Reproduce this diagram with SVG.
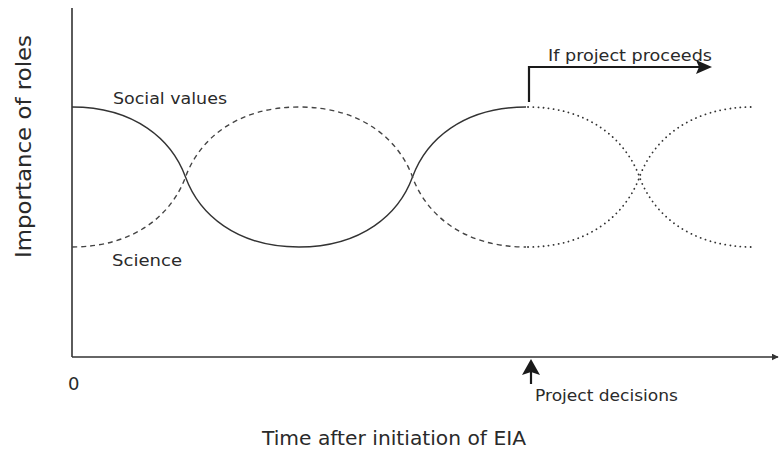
<svg xmlns="http://www.w3.org/2000/svg" width="780" height="450" viewBox="0 0 780 450">
<style>
text{font-family:"DejaVu Sans","Liberation Sans",sans-serif;fill:#2a2a2a}
.ax{stroke:#333;stroke-width:1.6;fill:none}
.solid{stroke:#333;stroke-width:1.4;fill:none}
.dash{stroke:#444;stroke-width:1.4;fill:none;stroke-dasharray:5 4}
.dot{stroke:#333;stroke-width:1.8;fill:none;stroke-dasharray:0.1 5;stroke-linecap:round}
.arr{stroke:#1a1a1a;stroke-width:2.2;fill:none}
.head{fill:#1a1a1a}
</style>
<defs>
<marker id="ah" viewBox="0 0 10 10" refX="9" refY="5" markerWidth="7" markerHeight="7" markerUnits="userSpaceOnUse" orient="auto"><path d="M0,0 L10,5 L0,10 z" fill="#333"/></marker>
</defs>
<g id="axes">
<line class="ax" x1="72" y1="8" x2="72" y2="357"/>
<line class="ax" x1="72" y1="357" x2="778" y2="357" marker-end="url(#ah)"/>
</g>
<g id="connectors">
<path id="social" class="solid" d="M72,107 C135,107 172,140 185.5,177 C199,214 236,247 299,247 C362,247 399,214 412.5,177 C426,140 463,107 526,107"/>
<path id="science" class="dash" d="M72,247 C135,247 172,214 185.5,177 C199,140 236,107 299,107 C362,107 399,140 412.5,177 C426,214 463,247 526,247"/>
<path id="social-future" class="dot" d="M528,107 C589,107 626,140 639.5,177 C653,214 690,247 753,247"/>
<path id="science-future" class="dot" d="M528,247 C589,247 626,214 639.5,177 C653,140 690,107 753,107"/>
<g id="proceeds-arrow">
<path class="arr" d="M529,102 V67 H700"/>
<path class="head" d="M712,67 L696,60 L699,67 L696,74 z"/>
</g>
<g id="decision-arrow">
<path class="arr" d="M531,384 V368"/>
<path class="head" d="M531,359 L540,375 L531,372 L522,375 z"/>
</g>
</g>
<g id="labels">
<text x="113" y="104" font-size="16" textLength="114" lengthAdjust="spacingAndGlyphs">Social values</text>
<text x="112" y="266" font-size="16" textLength="70" lengthAdjust="spacingAndGlyphs">Science</text>
<text x="548" y="61" font-size="16" textLength="164" lengthAdjust="spacingAndGlyphs">If project proceeds</text>
<text x="535" y="401" font-size="16" textLength="143" lengthAdjust="spacingAndGlyphs">Project decisions</text>
<text x="68" y="390" font-size="18">0</text>
<text x="262" y="445" font-size="20" textLength="264" lengthAdjust="spacingAndGlyphs">Time after initiation of EIA</text>
<text transform="translate(31,258) rotate(-90)" font-size="21" textLength="223" lengthAdjust="spacingAndGlyphs">Importance of roles</text>
</g>
</svg>
